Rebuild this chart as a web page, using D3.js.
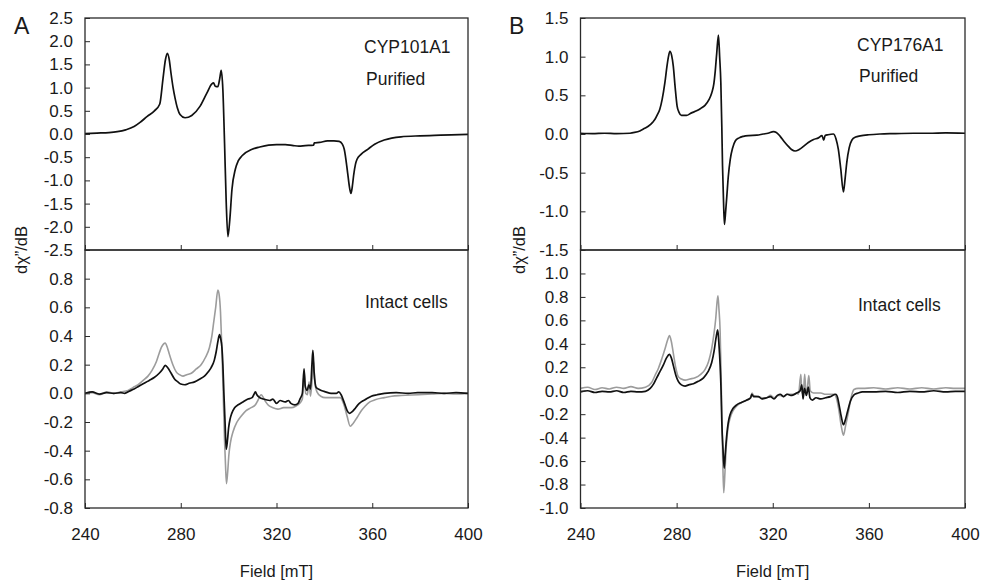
<!DOCTYPE html>
<html><head><meta charset="utf-8">
<script src="https://cdn.jsdelivr.net/npm/d3@7"></script>
<style>
body{margin:0;background:#fff}
svg{display:block}
text{font-family:"Liberation Sans",Arial,Helvetica,sans-serif;fill:#1a1a1a}
</style>
</head><body><svg id="c" width="982" height="580"></svg>
<script>
// ---------- data ----------
const fieldDomain = [240, 400];
const fieldTicks = [240, 280, 320, 360, 400];

const ticksA_top = [2.5, 2.0, 1.5, 1.0, 0.5, 0.0, -0.5, -1.0, -1.5, -2.0, -2.5];
const ticksA_bot = [0.8, 0.6, 0.4, 0.2, 0.0, -0.2, -0.4, -0.6, -0.8];
const ticksB_top = [1.5, 1.0, 0.5, 0.0, -0.5, -1.0, -1.5];
const ticksB_bot = [1.0, 0.8, 0.6, 0.4, 0.2, 0.0, -0.2, -0.4, -0.6, -0.8, -1.0];

const domainA_top = [-2.5, 2.5];
const domainA_bot = [-0.8, 1.0];
const domainB_top = [-1.5, 1.5];
const domainB_bot = [-1.0, 1.2];

const panelLetters = ["A", "B"];
const enzymes = ["CYP101A1", "CYP176A1"];
const labelPurified = "Purified";
const labelCells = "Intact cells";
const xTitle = "Field [mT]";
const yTitle = "dχ\u201D/dB";

// [field mT, dχ''/dB]
const cyp101_purified = [
[240,0.01],[245,0.02],[250,0.03],[253.5,0.05],[257,0.09],[260.5,0.16],[263,0.25],[266,0.38],[269,0.5],[271.2,0.64],[272.6,1.2],[273.6,1.6],[274.4,1.74],[275.2,1.6],[275.9,1.32],[276.8,1.0],[277.6,0.78],[278.6,0.56],[279.7,0.42],[281.8,0.35],[284.6,0.40],[288.1,0.60],[290.9,0.88],[293,1.08],[293.7,1.1],[294.4,1.03],[295.5,1.02],[296.3,1.2],[296.9,1.37],[297.6,0.95],[298.3,-0.2],[299,-1.48],[299.7,-2.21],[300.5,-1.84],[301.4,-1.19],[302.8,-0.76],[304,-0.58],[305.6,-0.47],[309.8,-0.33],[313,-0.28],[316.7,-0.24],[320,-0.23],[323.7,-0.23],[327,-0.25],[329.3,-0.26],[332,-0.25],[335.5,-0.24],[335.8,-0.19],[338,-0.18],[341.3,-0.15],[344,-0.15],[346.2,-0.16],[347.5,-0.22],[348.3,-0.33],[349.7,-0.83],[350.5,-1.15],[351.1,-1.28],[351.7,-1.12],[352.2,-0.9],[353,-0.65],[353.6,-0.55],[355.3,-0.44],[358.1,-0.33],[361,-0.22],[365,-0.13],[372,-0.06],[380,-0.04],[386,-0.03],[393,-0.02],[400,-0.01]
];
const cyp101_cells_black = [
[240,0.0],[243,0.01],[246,-0.005],[249,0.005],[252,0.0],[255,0.005],[256.6,0.0],[258.5,0.015],[260.5,0.03],[262.5,0.05],[264.7,0.07],[266.8,0.09],[268.9,0.11],[271,0.14],[272.5,0.17],[273.5,0.195],[274.5,0.18],[276,0.14],[277.4,0.1],[278.8,0.08],[280,0.065],[281.6,0.06],[283.5,0.07],[285.8,0.08],[288,0.1],[289.9,0.12],[291.5,0.15],[292.7,0.18],[294,0.23],[294.8,0.29],[295.6,0.37],[296.2,0.41],[296.7,0.38],[297.2,0.32],[297.6,0.2],[298,0.01],[298.5,-0.2],[299,-0.39],[299.5,-0.33],[300,-0.24],[300.6,-0.18],[301.3,-0.14],[302.5,-0.1],[304,-0.08],[306,-0.06],[308.1,-0.04],[309.8,-0.03],[310.5,-0.01],[311.2,0.01],[311.8,-0.01],[313,-0.03],[314.5,-0.04],[317.2,-0.05],[318.5,-0.04],[320,-0.07],[321.5,-0.05],[323.6,-0.06],[325,-0.05],[326,-0.07],[327.7,-0.08],[329,-0.07],[329.8,-0.04],[330.8,0.0],[331.5,0.17],[332,0.05],[332.8,0.02],[333.5,0.06],[334.2,0.03],[334.8,0.2],[335.2,0.3],[335.7,0.15],[336.6,0.04],[337.5,0.03],[338.7,0.02],[340.5,0.01],[342.8,0.0],[345,0.0],[346,0.01],[347,-0.01],[348.4,-0.07],[349.5,-0.12],[350.5,-0.14],[351.5,-0.13],[352.6,-0.11],[354,-0.08],[355.4,-0.06],[357.5,-0.04],[359.6,-0.02],[362,-0.01],[365.1,0.0],[370,0.005],[375,0.0],[379,0.005],[385,0.005],[390,0.0],[395,0.005],[400,0.0]
];
const cyp101_cells_grey = [
[240,0.0],[243,0.005],[246,-0.01],[249,0.01],[252,0.0],[255,0.01],[258,0.02],[260,0.04],[262.2,0.06],[264.3,0.09],[266.3,0.12],[268,0.16],[269.8,0.22],[271,0.28],[271.9,0.32],[273.5,0.35],[274.4,0.32],[275.3,0.27],[276.7,0.2],[278.1,0.15],[279.5,0.13],[280.9,0.12],[282.5,0.13],[284.4,0.14],[286.5,0.17],[288.5,0.2],[290.3,0.25],[292,0.32],[293,0.4],[293.8,0.5],[294.6,0.6],[295.5,0.72],[296.1,0.68],[296.6,0.57],[297.1,0.35],[297.6,0.08],[298.3,-0.33],[298.7,-0.5],[299.1,-0.63],[299.6,-0.55],[300.1,-0.43],[300.8,-0.34],[301.8,-0.27],[303.5,-0.2],[305.2,-0.16],[307.3,-0.12],[309.4,-0.1],[311.2,-0.08],[312.2,-0.05],[313.6,-0.01],[314.5,-0.03],[315.5,-0.06],[316.4,-0.08],[318.5,-0.1],[320.6,-0.11],[323,-0.1],[326.2,-0.1],[328,-0.09],[329.7,-0.07],[330.8,-0.04],[331.6,0.15],[332.2,0.0],[332.9,-0.01],[333.6,0.08],[334.2,-0.02],[334.9,0.1],[335.4,0.23],[336,0.08],[336.9,0.01],[338.5,-0.02],[340.4,-0.03],[343,-0.03],[346.6,-0.03],[348,-0.07],[349.5,-0.16],[350.8,-0.23],[352,-0.21],[353.6,-0.17],[355.5,-0.12],[357,-0.09],[359,-0.06],[361.2,-0.045],[365,-0.03],[368.1,-0.02],[372,-0.015],[379.3,-0.01],[385,-0.005],[390,0.0],[395,-0.005],[400,0.0]
];
const cyp176_purified = [
[240,0.01],[245,0.005],[250,0.01],[255,0.005],[260.6,0.01],[262.5,0.02],[264.7,0.04],[266.5,0.07],[268.2,0.1],[270,0.15],[271,0.19],[272,0.25],[273,0.32],[274,0.45],[275.1,0.66],[276,0.88],[276.6,1.0],[277.2,1.07],[277.9,1.02],[278.6,0.88],[279.4,0.6],[280.2,0.36],[281,0.28],[282,0.24],[284.1,0.24],[286,0.27],[288.3,0.3],[290,0.33],[291.8,0.37],[293.4,0.44],[294.6,0.53],[295.5,0.65],[296,0.79],[296.7,1.05],[297.4,1.28],[297.9,1.0],[298.4,0.66],[298.8,0.1],[299.1,-0.41],[299.5,-0.85],[299.9,-1.17],[300.4,-1.0],[300.9,-0.8],[301.5,-0.55],[302.3,-0.33],[303.3,-0.18],[304.4,-0.09],[306,-0.05],[307.8,-0.03],[310,-0.02],[313.4,-0.015],[316,0.0],[318,0.01],[320.3,0.03],[321.5,0.02],[323.1,-0.03],[324.8,-0.1],[326.5,-0.16],[327.8,-0.2],[329.3,-0.22],[331,-0.2],[332.8,-0.16],[334.8,-0.11],[337,-0.07],[339,-0.05],[340.5,-0.02],[341.2,-0.08],[341.8,-0.02],[343,-0.01],[345.2,0.0],[346.3,-0.06],[347.3,-0.2],[348.3,-0.45],[349.4,-0.75],[350.1,-0.58],[350.8,-0.37],[351.8,-0.18],[352.9,-0.08],[354.5,-0.04],[356.4,-0.025],[360,-0.01],[364.7,0.0],[370,0.005],[378.6,0.01],[385,0.01],[392,0.015],[400,0.01]
];
const cyp176_cells_black = [
[240,-0.01],[243,0.0],[246,-0.015],[249,-0.005],[252,-0.01],[255,0.0],[258,-0.015],[261,-0.005],[264,-0.01],[267,-0.005],[269,0.02],[270.5,0.06],[271.7,0.11],[273,0.16],[274.5,0.22],[275.8,0.28],[277,0.31],[277.8,0.28],[278.7,0.21],[279.7,0.13],[280.7,0.08],[282,0.05],[283.5,0.04],[285,0.05],[287,0.06],[289,0.08],[291.2,0.11],[293,0.16],[294.6,0.24],[295.6,0.34],[296.4,0.45],[297.1,0.52],[297.6,0.4],[298.1,0.22],[298.5,0.0],[298.8,-0.26],[299.3,-0.5],[299.8,-0.66],[300.3,-0.52],[300.9,-0.37],[301.5,-0.27],[302.3,-0.2],[303.5,-0.15],[305,-0.12],[307,-0.1],[309.2,-0.08],[310.8,-0.06],[311.3,-0.03],[312,-0.05],[314,-0.05],[315.5,-0.07],[317.5,-0.06],[319,-0.05],[320.5,-0.07],[322,-0.04],[323.1,-0.03],[324.5,-0.05],[326,-0.03],[327.5,-0.04],[328.6,-0.035],[330,-0.02],[331.4,0.0],[332.1,0.05],[332.6,-0.07],[333.2,0.02],[334,-0.04],[334.8,0.03],[335.5,-0.06],[336.5,-0.08],[338,-0.06],[340,-0.07],[342,-0.06],[344,-0.05],[346.2,-0.03],[347,-0.06],[347.6,-0.12],[348.5,-0.22],[349.4,-0.29],[350.2,-0.25],[351.1,-0.18],[352.3,-0.09],[353.8,-0.035],[355.5,-0.02],[357.3,-0.01],[362,-0.01],[367,-0.005],[372,-0.015],[377,-0.005],[382,-0.01],[387,0.0],[392,-0.01],[396,-0.005],[400,-0.005]
];
const cyp176_cells_grey = [
[240,0.02],[243,0.03],[246,0.01],[249,0.025],[252,0.015],[255,0.03],[258,0.02],[261,0.035],[264,0.02],[267,0.03],[269.6,0.07],[271,0.13],[272.4,0.19],[273.8,0.27],[275.2,0.36],[276.2,0.43],[277,0.47],[277.8,0.42],[278.7,0.31],[279.7,0.19],[280.7,0.12],[282,0.1],[283.5,0.09],[285.5,0.1],[287.7,0.11],[290,0.14],[291.8,0.18],[293.3,0.25],[294.6,0.36],[295.5,0.48],[296.3,0.62],[296.8,0.75],[297.2,0.81],[297.6,0.7],[298.1,0.51],[298.5,0.15],[298.8,-0.2],[299.2,-0.6],[299.6,-0.87],[300.1,-0.7],[300.6,-0.49],[301.3,-0.33],[302.3,-0.23],[303.5,-0.17],[305,-0.13],[307,-0.1],[309.2,-0.08],[310.8,-0.06],[311.4,-0.02],[312,-0.04],[314,-0.05],[315.5,-0.06],[317.5,-0.06],[319,-0.04],[320.6,-0.06],[322,-0.04],[323.1,-0.04],[324.5,-0.05],[326,-0.03],[328.6,-0.03],[330,-0.02],[330.7,-0.03],[331.7,0.14],[332.1,-0.02],[332.8,0.0],[333.3,0.14],[333.8,-0.01],[334.4,0.02],[335,0.13],[335.6,0.0],[337,-0.02],[340,-0.02],[342,-0.03],[345.5,-0.03],[346.6,-0.07],[347.4,-0.15],[348.5,-0.3],[349.4,-0.38],[350.3,-0.3],[351.5,-0.18],[352.6,-0.06],[353.8,0.01],[355.5,0.02],[357.3,0.02],[362,0.025],[367,0.015],[372,0.025],[377,0.015],[382,0.025],[387,0.015],[392,0.025],[396,0.02],[400,0.02]
];

// ---------- drawing ----------
const svg = d3.select("#c");
const TOP = 18, MID = 250, BOT = 508;
const FRAME = "#2a2a2a", BLACK = "#111", GREY = "#9c9c9c";
const fmt = d => d.toFixed(1);
const TICK_FS = 17, ANN_FS = 17.5, TITLE_FS = 16.5;

function panel(cfg, idx) {
  const x = d3.scaleLinear().domain(fieldDomain).range([cfg.left, cfg.right]);
  const yT = d3.scaleLinear().domain(cfg.domTop).range([MID, TOP]);
  const yB = d3.scaleLinear().domain(cfg.domBot).range([BOT, MID]);
  const g = svg.append("g");

  const cid = "clip" + idx;
  const defs = svg.append("defs");
  defs.append("clipPath").attr("id", cid + "t").append("rect")
    .attr("x", cfg.left).attr("y", TOP).attr("width", cfg.right - cfg.left).attr("height", MID - TOP);
  defs.append("clipPath").attr("id", cid + "b").append("rect")
    .attr("x", cfg.left).attr("y", MID).attr("width", cfg.right - cfg.left).attr("height", BOT - MID);

  const lineT = d3.line().x(d => x(d[0])).y(d => yT(d[1])).curve(d3.curveMonotoneX);
  const lineB = d3.line().x(d => x(d[0])).y(d => yB(d[1])).curve(d3.curveMonotoneX);

  g.append("path").datum(cfg.purified).attr("clip-path", `url(#${cid}t)`)
    .attr("d", lineT).attr("fill", "none").attr("stroke", BLACK).attr("stroke-width", 1.7).attr("stroke-linejoin", "round");
  g.append("path").datum(cfg.grey).attr("clip-path", `url(#${cid}b)`)
    .attr("d", lineB).attr("fill", "none").attr("stroke", GREY).attr("stroke-width", 1.6).attr("stroke-linejoin", "round");
  g.append("path").datum(cfg.black).attr("clip-path", `url(#${cid}b)`)
    .attr("d", lineB).attr("fill", "none").attr("stroke", BLACK).attr("stroke-width", 1.7).attr("stroke-linejoin", "round");

  const styleAxis = sel => {
    sel.select(".domain").remove();
    sel.selectAll(".tick line").attr("stroke", FRAME).attr("stroke-width", 1);
    sel.selectAll(".tick text").attr("font-size", TICK_FS).attr("fill", "#1a1a1a")
      .style("font-family", '"Liberation Sans", Arial, sans-serif');
  };
  g.append("g").attr("transform", `translate(${cfg.left},0)`)
    .call(d3.axisLeft(yT).tickValues(cfg.ticksTop).tickFormat(fmt).tickSizeInner(-5).tickSizeOuter(0).tickPadding(12))
    .call(styleAxis);
  g.append("g").attr("transform", `translate(${cfg.left},0)`)
    .call(d3.axisLeft(yB).tickValues(cfg.ticksBot).tickFormat(fmt).tickSizeInner(-5).tickSizeOuter(0).tickPadding(12))
    .call(styleAxis);
  g.append("g").attr("transform", `translate(0,${MID})`)
    .call(d3.axisBottom(x).tickValues(fieldTicks).tickFormat("").tickSizeInner(-5).tickSizeOuter(0))
    .call(styleAxis);
  g.append("g").attr("transform", `translate(0,${BOT})`)
    .call(d3.axisBottom(x).tickValues(fieldTicks).tickFormat(d3.format("d")).tickSizeInner(-5).tickSizeOuter(0).tickPadding(20))
    .call(styleAxis);

  [[TOP, MID], [MID, BOT]].forEach(([a, b]) => {
    g.append("rect").attr("x", cfg.left).attr("y", a).attr("width", cfg.right - cfg.left).attr("height", b - a)
      .attr("fill", "none").attr("stroke", FRAME).attr("stroke-width", 1.3);
  });

  g.append("text").attr("x", cfg.letterX).attr("y", 34).attr("font-size", 23).text(panelLetters[idx]);
  g.append("text").attr("x", cfg.annX).attr("y", cfg.enzY).attr("font-size", ANN_FS).text(enzymes[idx]);
  g.append("text").attr("x", cfg.annX + 2).attr("y", cfg.purY).attr("font-size", ANN_FS).text(labelPurified);
  g.append("text").attr("x", cfg.annX + 1).attr("y", cfg.cellY).attr("font-size", ANN_FS).text(labelCells);
  g.append("text").attr("x", (cfg.left + cfg.right) / 2).attr("y", 577).attr("text-anchor", "middle")
    .attr("font-size", TITLE_FS).text(xTitle);
  g.append("text").attr("transform", `translate(${cfg.yTitleX},250) rotate(-90)`).attr("text-anchor", "middle")
    .attr("font-size", TITLE_FS).text(yTitle);
}

panel({left: 85, right: 468, domTop: domainA_top, domBot: domainA_bot, ticksTop: ticksA_top, ticksBot: ticksA_bot,
  purified: cyp101_purified, black: cyp101_cells_black, grey: cyp101_cells_grey,
  letterX: 14, annX: 364, enzY: 53, purY: 85, cellY: 308, yTitleX: 27}, 0);
panel({left: 580.5, right: 965, domTop: domainB_top, domBot: domainB_bot, ticksTop: ticksB_top, ticksBot: ticksB_bot,
  purified: cyp176_purified, black: cyp176_cells_black, grey: cyp176_cells_grey,
  letterX: 509, annX: 857, enzY: 51, purY: 82, cellY: 311, yTitleX: 525}, 1);
</script>
</body></html>
